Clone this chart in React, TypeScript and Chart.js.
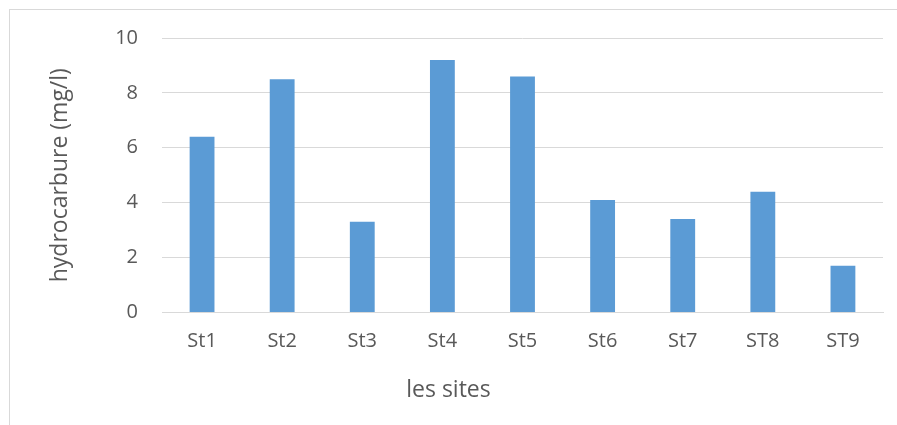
import React, { useEffect, useRef } from "react";
import { Chart, registerables } from "chart.js";

Chart.register(...registerables);

const categories = ["St1", "St2", "St3", "St4", "St5", "St6", "St7", "ST8", "ST9"];
const values = [6.4, 8.5, 3.3, 9.2, 8.6, 4.1, 3.4, 4.4, 1.7];
const yTitle = "hydrocarbure (mg/l)";
const xTitle = "les sites";

export default function App() {
  const ref = useRef<HTMLCanvasElement | null>(null);
  useEffect(() => {
    if (!ref.current) return;
    const font = "'Open Sans', 'Noto Sans', sans-serif";
    const chart = new Chart(ref.current, {
      type: "bar",
      data: {
        labels: categories,
        datasets: [
          {
            data: values,
            backgroundColor: "#5b9bd5",
            borderWidth: 0,
            categoryPercentage: 1,
            barPercentage: 0.31,
          },
        ],
      },
      options: {
        animation: false,
        responsive: false,
        maintainAspectRatio: false,
        layout: { padding: { top: 38, right: 14, left: 14, bottom: 0 } },
        plugins: {
          legend: { display: false },
          tooltip: { enabled: false },
          title: {
            display: true,
            position: "bottom",
            text: xTitle,
            color: "#595959",
            font: { family: font, size: 23, weight: "normal" },
            padding: { top: 0, bottom: 21 },
          },
        },
        scales: {
          x: {
            grid: { display: false, drawTicks: false },
            border: { display: true, color: "#d9d9d9", width: 1 },
            ticks: { color: "#595959", font: { family: font, size: 20 }, padding: 17 },
            afterFit: (s: any) => {
              s.height = 64;
            },
          },
          y: {
            min: 0,
            max: 10,
            ticks: { stepSize: 2, color: "#595959", font: { family: font, size: 20 }, padding: 24 },
            grid: { color: "#d9d9d9", lineWidth: 1, drawTicks: false },
            border: { display: false },
            title: {
              display: true,
              text: yTitle,
              color: "#595959",
              font: { family: font, size: 23 },
              padding: { top: 33, bottom: 0 },
            },
            afterFit: (s: any) => {
              s.width = 148;
            },
          },
        },
      },
    });
    return () => chart.destroy();
  }, []);
  return (
    <div style={{ position: "absolute", left: 0, top: 0, width: 897, height: 425, background: "#fff" }}>
      <div
        style={{
          position: "absolute",
          left: 9,
          top: 9,
          width: 900,
          height: 430,
          borderLeft: "1px solid #d9d9d9",
          borderTop: "1px solid #d9d9d9",
        }}
      />
      <canvas ref={ref} width={897} height={425} style={{ position: "absolute", left: 0, top: 0 }} />
    </div>
  );
}
